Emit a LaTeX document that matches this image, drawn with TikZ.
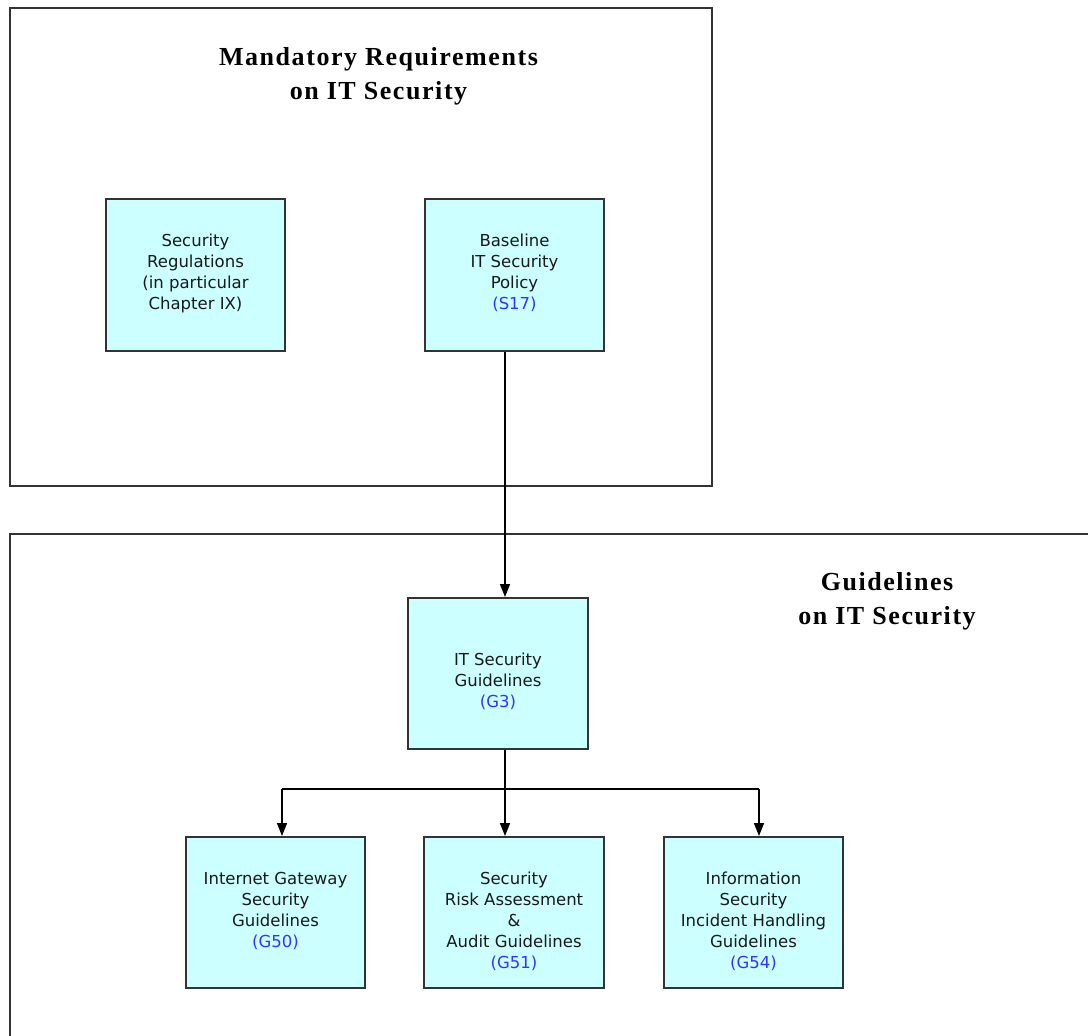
\documentclass[tikz,border=0pt]{standalone}
\usepackage{fontspec}
\setmainfont{DejaVu Sans}
\newfontfamily\titlefont[LetterSpace=6]{Liberation Serif}
\usetikzlibrary{arrows.meta,calc}
\definecolor{boxfill}{HTML}{CCFFFF}
\definecolor{boxline}{HTML}{333333}
\definecolor{codeblue}{HTML}{3333FF}
\begin{document}
\begin{tikzpicture}[x=1pt,y=-1pt,
  frame/.style={draw=boxline,line width=2pt},
  box/.style={draw=boxline,fill=boxfill,line width=2pt,minimum width=179pt,minimum height=152pt,inner sep=0pt},
  txt/.style={align=center,font=\fontsize{16.5}{21}\selectfont,inner sep=0pt,text=black!90},
  title/.style={align=center,font=\titlefont\bfseries\fontsize{26}{34}\selectfont,inner sep=0pt},
  arr/.style={draw=black,line width=1.6pt,-{Triangle[length=13pt,width=10pt]}},
  code/.style={color=codeblue}]
\useasboundingbox (0,0) rectangle (1088,1036);
% frames
\node[frame,minimum width=702pt,minimum height=478pt,inner sep=0pt] (mand) at (361,247) {};
\coordinate (gTL) at (10,534);
\coordinate (gBR) at (1100,1050);
\draw[frame] (gTL |- gBR) -- (gTL) -- (gTL -| gBR);
% titles
\node[title] (t1) at (378.5,76) {Mandatory Requirements\\on IT Security};
\node[title] (t2) at (887,601) {Guidelines\\on IT Security};
% boxes
\node[box] (sr) at (195.5,275) {};
\node[txt] (srt) at ([yshift=2pt]sr.center) {Security\\Regulations\\(in particular\\Chapter IX)};
\node[box] (bl) at (514.5,275) {};
\node[txt] (blt) at ([yshift=2pt]bl.center) {Baseline\\IT Security\\Policy\\{\color{codeblue}(S17)}};
\node[box,minimum width=180pt,minimum height=151pt] (g3) at (498,673.5) {};
\node[txt] (g3t) at ([yshift=-8pt]g3.center) {IT Security\\Guidelines\\{\color{codeblue}(G3)}};
\node[box,minimum height=151pt] (g50) at (275.5,912.5) {};
\node[txt] (g50t) at ([yshift=2pt]g50.center) {Internet Gateway\\Security\\Guidelines\\{\color{codeblue}(G50)}};
\node[box,minimum width=180pt,minimum height=151pt] (g51) at (514,912.5) {};
\node[txt] (g51t) at ([yshift=-8.5pt]g51.center) {Security\\Risk Assessment\\\&\\Audit Guidelines\\{\color{codeblue}(G51)}};
\node[box,minimum height=151pt] (g54) at (753.5,912.5) {};
\node[txt] (g54t) at ([yshift=-8.5pt]g54.center) {Information\\Security\\Incident Handling\\Guidelines\\{\color{codeblue}(G54)}};
% connectors
\coordinate (sp) at (505,789);
\coordinate (lx) at (282,789);
\coordinate (rx) at (759,789);
\draw[arr] (bl.south -| sp) -- (g3.north -| sp);
\draw[line width=1.6pt] (g3.south -| sp) -- (sp);
\draw[line width=1.6pt] (lx) -- (rx);
\draw[arr] (lx) -- (g50.north -| lx);
\draw[arr] (sp) -- (g51.north -| sp);
\draw[arr] (rx) -- (g54.north -| rx);
\end{tikzpicture}
\end{document}
